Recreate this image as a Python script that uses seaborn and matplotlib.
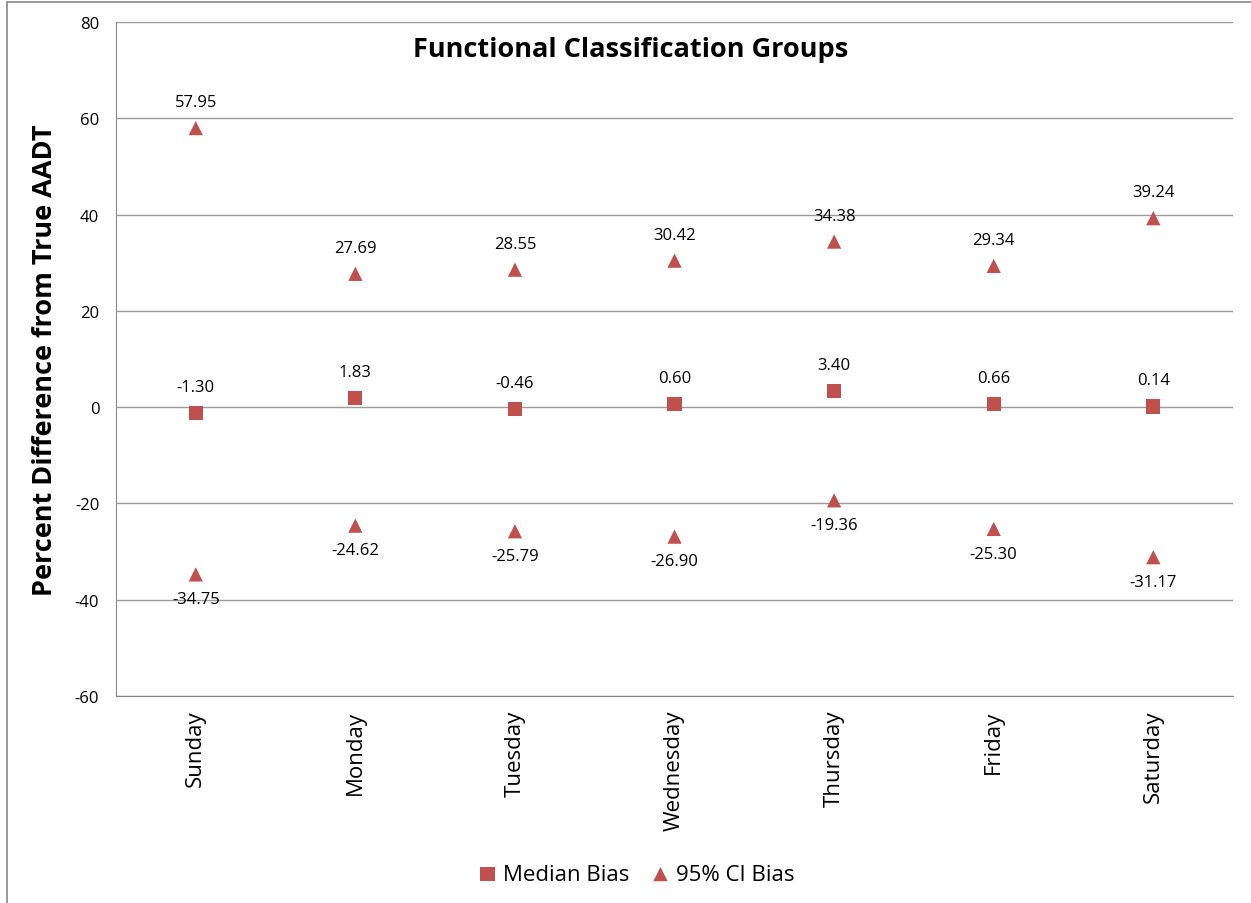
import pandas as pd
import matplotlib.pyplot as plt
import seaborn as sns
from matplotlib.patches import Rectangle

days = ["Sunday", "Monday", "Tuesday", "Wednesday", "Thursday", "Friday", "Saturday"]
median_bias = [-1.30, 1.83, -0.46, 0.60, 3.40, 0.66, 0.14]
ci_upper = [57.95, 27.69, 28.55, 30.42, 34.38, 29.34, 39.24]
ci_lower = [-34.75, -24.62, -25.79, -26.90, -19.36, -25.30, -31.17]

red = "#C0504D"

sns.set_style("white")
plt.rcParams["font.family"] = ["Open Sans", "DejaVu Sans"]
plt.rcParams["axes.unicode_minus"] = False
plt.rcParams["text.color"] = "black"
plt.rcParams["xtick.color"] = "black"
plt.rcParams["ytick.color"] = "black"
plt.rcParams["axes.labelcolor"] = "black"

med = pd.DataFrame({"day": days, "value": median_bias})
ci = pd.DataFrame({"day": days * 2, "value": ci_upper + ci_lower})

fig = plt.figure(figsize=(12.51, 9.04), dpi=100)
ax = fig.add_axes([0.0927, 0.229, 0.893, 0.7456])

sns.scatterplot(data=med, x="day", y="value", marker="s", s=105, color=red,
                edgecolor="none", ax=ax, label="Median Bias", zorder=3)
sns.scatterplot(data=ci, x="day", y="value", marker="^", s=105, color=red,
                edgecolor="none", ax=ax, label="95% CI Bias", zorder=3)

for i, v in enumerate(median_bias):
    ax.annotate(f"{v:.2f}", (i, v), xytext=(0, 13), textcoords="offset points",
                ha="center", va="bottom", fontsize=12)
for i, v in enumerate(ci_upper):
    ax.annotate(f"{v:.2f}", (i, v), xytext=(0, 13), textcoords="offset points",
                ha="center", va="bottom", fontsize=12)
for i, v in enumerate(ci_lower):
    ax.annotate(f"{v:.2f}", (i, v), xytext=(0, -12), textcoords="offset points",
                ha="center", va="top", fontsize=12)

ax.set_ylim(-60, 80)
ax.set_yticks(range(-60, 81, 20))
ax.set_xlim(-0.5, len(days) - 0.5)
ax.set_xticks(range(len(days)))
ax.set_xticklabels(days, rotation=90, fontsize=16)
ax.set_xticks([i - 0.5 for i in range(len(days) + 1)], minor=True)
ax.tick_params(axis="x", which="major", length=0, pad=10)
ax.tick_params(axis="x", which="minor", length=6, color="#888888")
ax.tick_params(axis="y", length=6, color="#888888", labelcolor="black", labelsize=12, pad=6)
ax.grid(axis="y", color="#9a9a9a", linewidth=1)
ax.set_axisbelow(True)
for side in ["top", "right"]:
    ax.spines[side].set_visible(False)
for side in ["left", "bottom"]:
    ax.spines[side].set_color("#888888")
ax.set_xlabel("")
ax.set_ylabel("Percent Difference from True AADT", fontsize=19.5, fontweight="bold", labelpad=12)

fig.text(0.504, 0.945, "Functional Classification Groups", ha="center", va="center",
         fontsize=19.5, fontweight="bold")

ax.legend(loc="lower center", bbox_to_anchor=(0.465, -0.31), ncol=2, frameon=False,
          fontsize=16, handlelength=1.0, handletextpad=0.2, columnspacing=0.9)

fig.patches.append(Rectangle((0.0056, -0.01), 1.0, 1.0067, transform=fig.transFigure,
                             fill=False, edgecolor="#888888", linewidth=1.2))

fig.savefig("out.png", dpi=100)
